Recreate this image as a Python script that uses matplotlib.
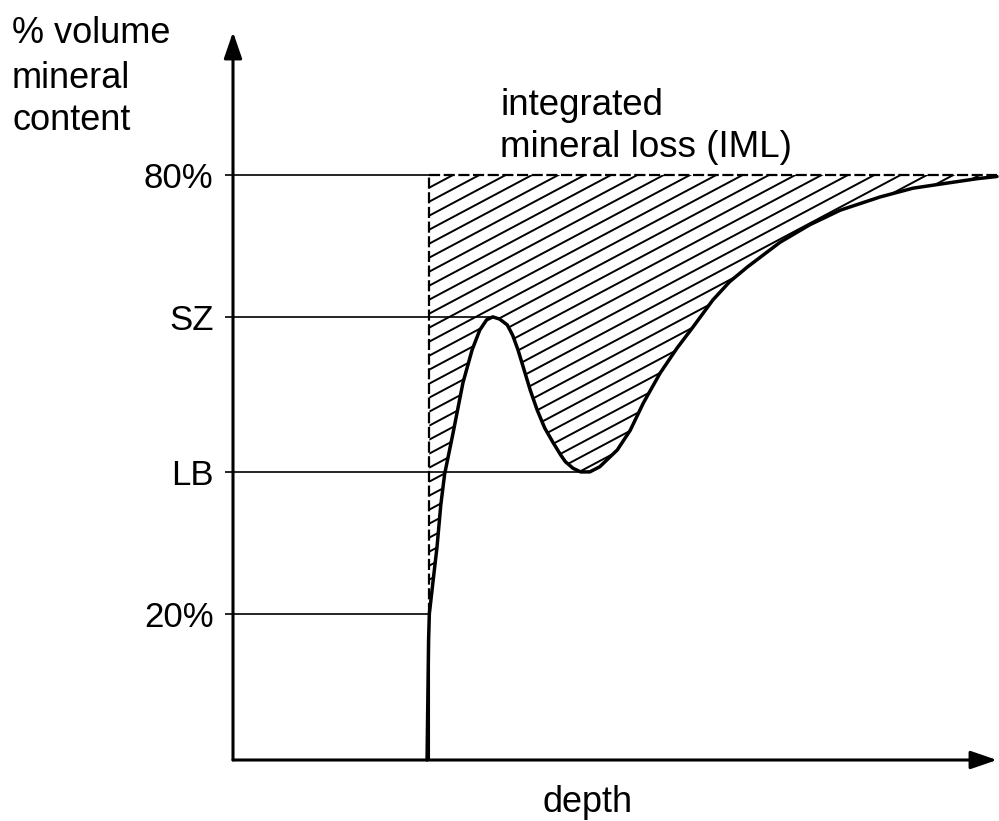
import numpy as np
import matplotlib
matplotlib.use('Agg')
import matplotlib.pyplot as plt
from matplotlib.patches import Polygon

plt.rcParams['font.family'] = ['Liberation Sans', 'DejaVu Sans']

# Mineral profile through the lesion (depth in arbitrary units, mineral in vol %)
depth = [25.4, 25.5, 25.6, 25.7, 26.2, 26.7, 27.2, 27.7, 28.8, 30.1, 31.3, 32.3,
         33.2, 34.0, 34.9, 35.9, 36.6, 37.3, 38.0, 38.9, 39.8, 40.8, 41.9, 42.9,
         43.5, 44.5, 45.5, 46.7, 48.0, 50.3, 52.0, 53.7, 55.9, 58.1, 60.2, 62.8,
         65.0, 67.3, 71.6, 75.5, 79.5, 84.7, 89.0, 93.5, 97.4, 100.0]
mineral = [0.0, 8.2, 16.4, 20.0, 24.6, 29.1, 34.9, 39.1, 44.7, 51.6, 56.1, 58.8,
           60.2, 60.6, 60.3, 59.5, 58.1, 56.1, 53.7, 50.6, 47.9, 45.4, 43.4, 41.7,
           40.8, 39.9, 39.4, 39.4, 40.1, 42.4, 45.1, 48.8, 52.9, 56.3, 59.2, 62.9,
           65.4, 67.4, 70.8, 73.2, 75.2, 77.0, 78.2, 78.9, 79.5, 79.8]

sound_level = 80       # sound enamel
base_level = 20        # lower limit of the IML area
surface_depth = 25.7   # lesion surface

d = np.array(depth)
m = np.array(mineral)

# surface zone = local maximum, lesion body = local minimum
i_sz = int(np.argmax(np.where(d < 40, m, -1)))
i_lb = int(np.argmin(np.where(d > 36, m, 999)))
sz_depth, sz_level = d[i_sz], m[i_sz]
lb_depth, lb_level = d[i_lb], m[i_lb]

tick_values = [base_level, lb_level, sz_level, sound_level]
tick_labels = ['20%', 'LB', 'SZ', '80%']

fig = plt.figure(figsize=(9.99, 8.21), dpi=100)
ax = fig.add_axes([233 / 999, 61 / 821, 764 / 999, 728 / 821])
ax.set_xlim(0, 100)
ax.set_ylim(0, 99.56)

# hatched area between the profile and the sound level
above = m >= base_level
poly_x = [surface_depth, 100] + list(d[above][::-1])
poly_y = [sound_level, sound_level] + list(m[above][::-1])
area = Polygon(np.column_stack([poly_x, poly_y]), closed=True,
               facecolor='none', edgecolor='none')
ax.add_patch(area)

slope = np.tan(np.radians(28)) * (7.64 / 7.3125)
step = 14 / 7.3125
for c in np.arange(base_level - slope * 100, sound_level, step):
    ln, = ax.plot([0, 100], [c, c + slope * 100], color='black', lw=1.4)
    ln.set_clip_path(area)

# guide lines
ax.hlines([sound_level, base_level], 0, surface_depth, color='black', lw=1.2)
ax.hlines(sz_level, 0, sz_depth, color='black', lw=1.2)
ax.hlines(lb_level, 0, lb_depth, color='black', lw=1.2)
ax.vlines(surface_depth, 0, base_level, color='black', lw=1.5)
ax.plot([surface_depth, 100], [sound_level, sound_level], color='black',
        lw=1.6, ls=(0, (5, 1.6)))
ax.plot([surface_depth, surface_depth], [base_level, sound_level],
        color='black', lw=1.6, ls=(0, (5, 1.6)))

# the mineral profile
ax.plot(d, m, color='black', lw=2.5, solid_capstyle='round',
        solid_joinstyle='round', clip_on=False)

# axes with arrows
for spine in ax.spines.values():
    spine.set_visible(False)
arrow = dict(arrowstyle='-|>,head_length=1.6,head_width=0.55', lw=2.2,
             color='black', shrinkA=0, shrinkB=0, mutation_scale=10)
ax.annotate('', xy=(0, 1), xytext=(0, 0), xycoords='axes fraction',
            arrowprops=arrow)
ax.annotate('', xy=(1, 0), xytext=(0, 0), xycoords='axes fraction',
            arrowprops=arrow)

ax.set_xticks([])
ax.set_yticks(tick_values, tick_labels)
ax.tick_params(axis='y', length=6, width=1.2, pad=8, labelsize=25)

fig.text(588 / 999, 1 - 812 / 821, 'depth', fontsize=26, ha='center',
         va='baseline')

fig.text(12 / 999, 1 - 43 / 821, '% volume', fontsize=26, va='baseline')
fig.text(12 / 999, 1 - 88 / 821, 'mineral', fontsize=26, va='baseline')
fig.text(12 / 999, 1 - 130 / 821, 'content', fontsize=26, va='baseline')

fig.text(500 / 999, 1 - 115 / 821, 'integrated', fontsize=26.5, va='baseline')
fig.text(500 / 999, 1 - 157 / 821, 'mineral loss (IML)', fontsize=26.5,
         va='baseline')

fig.savefig('out.png', dpi=100)
